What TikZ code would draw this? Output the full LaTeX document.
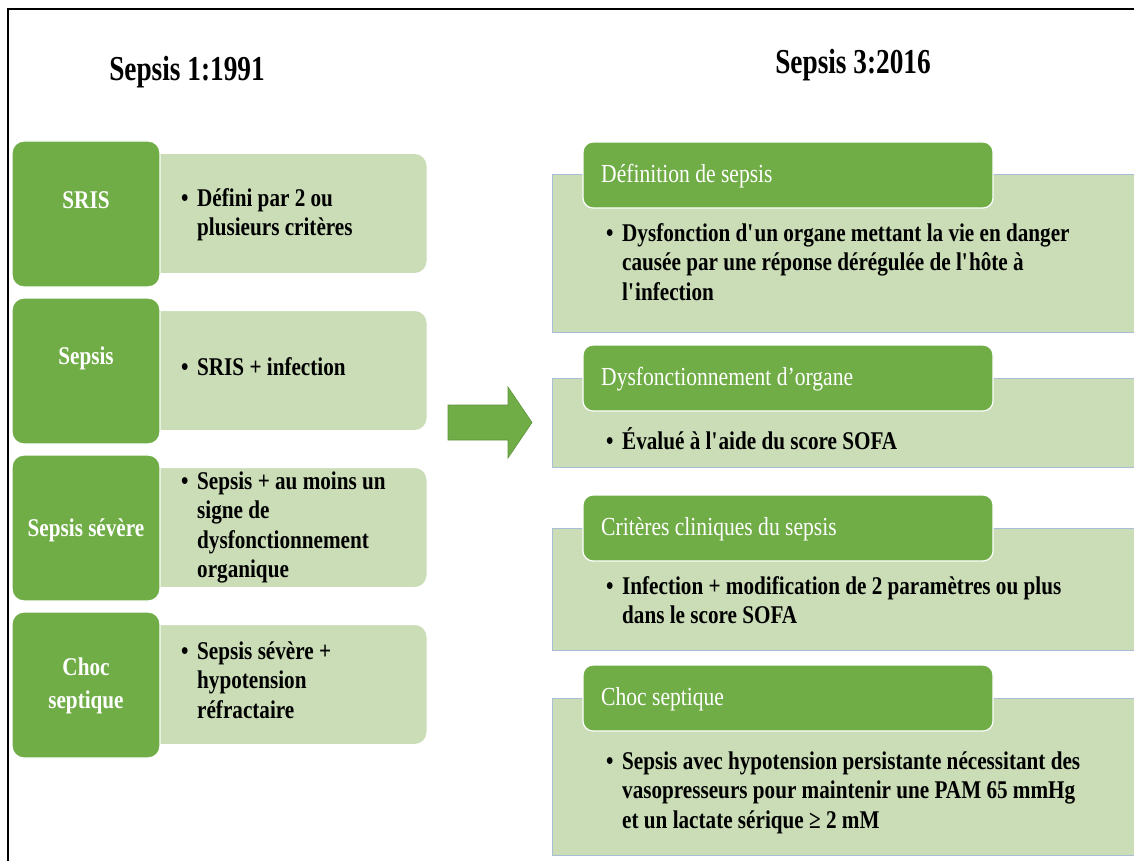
\documentclass[tikz,border=0pt]{standalone}
\usepackage{fontspec}
\setmainfont[FakeStretch=0.83]{Liberation Serif}
\newfontfamily\titlefont[FakeStretch=0.78]{Liberation Serif}
\usepackage{tikz}
\definecolor{darkgreen}{HTML}{70AD47}
\definecolor{lightgreen}{HTML}{CADDB7}
\definecolor{edgeblue}{HTML}{A9BDD6}
\newcommand{\bitem}[1]{\begin{tabular}{@{}l@{}l@{}}\makebox[16pt][l]{\textbullet} & \begin{tabular}[t]{@{}l@{}}#1\end{tabular}\end{tabular}}

\begin{document}
\begin{tikzpicture}[x=1pt, y=-1pt,
    darkbox/.style={draw=white, line width=1.2pt, fill=darkgreen, rounded corners=12pt, minimum width=148pt, minimum height=146pt, inner sep=0pt},
    lightbox/.style={draw=white, line width=1pt, fill=lightgreen, rounded corners=12pt, minimum width=280pt, minimum height=120pt, inner sep=0pt},
    headbox/.style={draw=white, line width=1.2pt, fill=darkgreen, rounded corners=10pt, minimum width=410pt, minimum height=66pt, inner sep=0pt},
    panel/.style={draw=edgeblue, line width=1pt, fill=lightgreen, minimum width=588pt, inner sep=0pt},
    label/.style={text=white, font=\bfseries\fontsize{25.5}{33}\selectfont, align=center, inner sep=0pt},
    headtext/.style={text=white, font=\fontsize{26}{30}\selectfont, anchor=west, inner sep=0pt},
    itemtext/.style={font=\bfseries\fontsize{25.5}{29.5}\selectfont, anchor=west, inner sep=0pt},
    title/.style={font=\titlefont\bfseries\fontsize{35}{40}\selectfont, inner sep=0pt}]

        \fill[white] (0,0) rectangle (1134,861);
        \useasboundingbox (0,0) rectangle (1134,861);

        % Frame
        \draw[line width=2.5pt] (8,861) -- (8,9) -- (1134,9);

        % Titles
        \node[title] (titleOld) at (187,72) {Sepsis 1:1991};
        \node[title] (titleNew) at (853,65) {Sepsis 3:2016};

        % Sepsis 1 : light boxes
        \node[lightbox] (srisBox) at (287,213.5) {};
        \node[lightbox] (sepsisBox) at (287,370.5) {};
        \node[lightbox] (severeBox) at (287,527.5) {};
        \node[lightbox] (chocBox) at (287,684.5) {};

        % Sepsis 1 : green boxes
        \node[darkbox] (srisKey) at (86,214) {};
        \node[darkbox] (sepsisKey) at (86,371) {};
        \node[darkbox] (severeKey) at (86,528) {};
        \node[darkbox] (chocKey) at (86,685) {};

        \node[label] (srisLabel) at (86,200) {SRIS};
        \node[label] (sepsisLabel) at (86,358) {Sepsis};
        \node[label] (severeLabel) at (86,530) {Sepsis sévère};
        \node[label] (chocLabel) at (86,686) {Choc\\septique};

        \node[itemtext] (srisText) at (181,215) {\bitem{Défini par 2 ou\\plusieurs critères}};
        \node[itemtext] (sepsisText) at (181,370) {\bitem{SRIS + infection}};
        \node[itemtext] (severeText) at (181,527.5) {\bitem{Sepsis + au moins un\\signe de\\dysfonctionnement\\organique}};
        \node[itemtext] (chocText) at (181,683) {\bitem{Sepsis sévère +\\hypotension\\réfractaire}};

        % Arrow
        \filldraw[fill=darkgreen, draw=darkgreen!85!black, line width=0.6pt] (448,405) -- (508,405) -- (508,387) -- (532,422.5) -- (508,458) -- (508,440) -- (448,440) -- cycle;

        % Sepsis 3 : panels
        \node[panel, minimum height=157pt] (defBox) at (846,253.5) {};
        \node[panel, minimum height=89pt] (organBox) at (846,422.5) {};
        \node[panel, minimum height=122pt] (critBox) at (846,589) {};
        \node[panel, minimum height=157pt] (shockBox) at (846,776.5) {};

        % Sepsis 3 : headers
        \node[headbox] (defHead) at (788,175) {};
        \node[headbox] (organHead) at (788,378) {};
        \node[headbox] (critHead) at (788,528) {};
        \node[headbox] (shockHead) at (788,698) {};

        \node[headtext] (defTitle) at (601,176) {Définition de sepsis};
        \node[headtext] (organTitle) at (601,379) {Dysfonctionnement d’organe};
        \node[headtext] (critTitle) at (601,529) {Critères cliniques du sepsis};
        \node[headtext] (shockTitle) at (601,699) {Choc septique};

        \node[itemtext] (defText) at (606,265) {\bitem{Dysfonction d\textquotesingle un organe mettant la vie en danger\\causée par une réponse dérégulée de l\textquotesingle hôte à\\l\textquotesingle infection}};
        \node[itemtext] (organText) at (606,443) {\bitem{Évalué à l\textquotesingle aide du score SOFA}};
        \node[itemtext] (critText) at (606,603) {\bitem{Infection + modification de 2 paramètres ou plus\\dans le score SOFA}};
        \node[itemtext] (shockText) at (606,793) {\bitem{Sepsis avec hypotension persistante nécessitant des\\vasopresseurs pour maintenir une PAM 65 mmHg\\et un lactate sérique ≥ 2 mM}};

        \end{tikzpicture}
\end{document}
